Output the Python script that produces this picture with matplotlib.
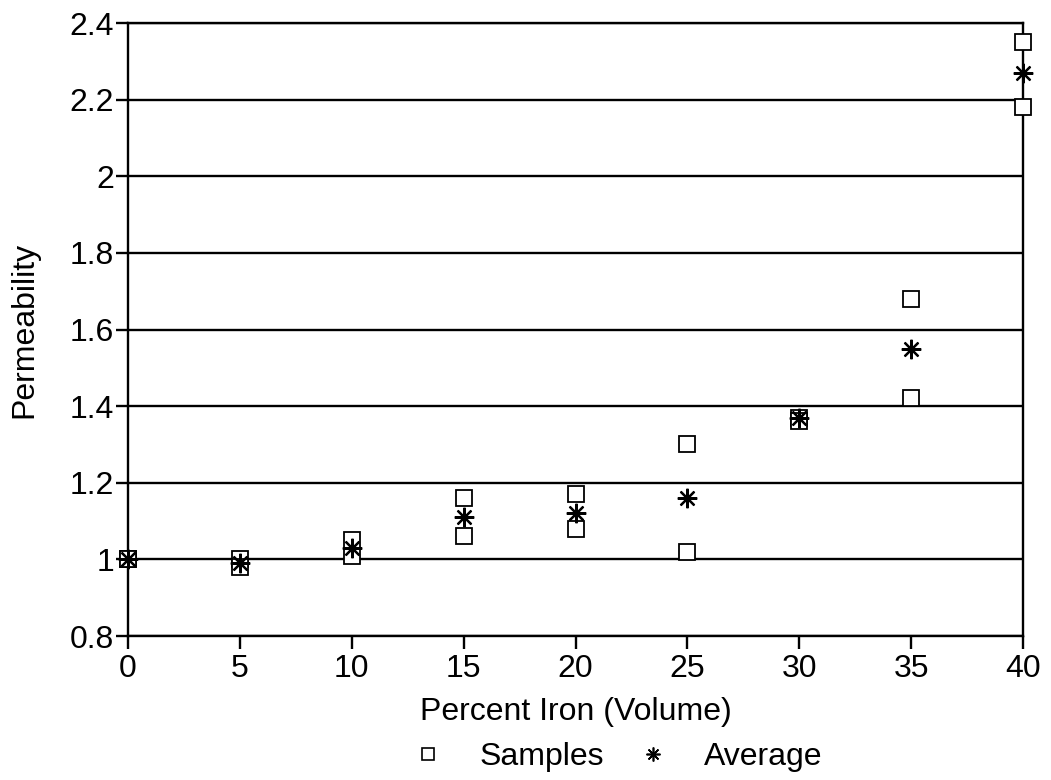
import matplotlib
matplotlib.use("Agg")
import matplotlib.pyplot as plt
from matplotlib.lines import Line2D

# iron content (% by volume) and measured permeability, two samples per mix
iron_pct = [0, 5, 10, 15, 20, 25, 30, 35, 40]
sample_a = [1.00, 1.00, 1.05, 1.16, 1.17, 1.30, 1.37, 1.68, 2.35]
sample_b = [1.00, 0.98, 1.01, 1.06, 1.08, 1.02, 1.36, 1.42, 2.18]
average = [1.00, 0.99, 1.03, 1.11, 1.12, 1.16, 1.37, 1.55, 2.27]

x_ticks = [0, 5, 10, 15, 20, 25, 30, 35, 40]
y_ticks = [0.8, 1.0, 1.2, 1.4, 1.6, 1.8, 2.0, 2.2, 2.4]
y_labels = ["0.8", "1", "1.2", "1.4", "1.6", "1.8", "2", "2.2", "2.4"]

plt.rcParams["font.family"] = ["Liberation Sans", "DejaVu Sans"]
FS = 23

fig = plt.figure(figsize=(10.51, 7.8), dpi=100)
ax = fig.add_axes([0.1218, 0.1846, 0.8516, 0.7859])

for y in y_ticks:
    ax.axhline(y, color="black", lw=1.7, zorder=1)

star = (8, 2, 0)
ax.plot(iron_pct, sample_a, ls="none", marker="s", ms=11.5, mfc="white",
        mec="black", mew=1.3, zorder=3, clip_on=False)
ax.plot(iron_pct, sample_b, ls="none", marker="s", ms=11.5, mfc="white",
        mec="black", mew=1.3, zorder=3, clip_on=False)
ax.plot(iron_pct, average, ls="none", marker=star, ms=14, mec="black",
        mew=1.6, zorder=4, clip_on=False)

ax.set_xlim(0, 40)
ax.set_ylim(0.8, 2.4)
ax.set_xticks(x_ticks)
ax.set_yticks(y_ticks)
ax.set_yticklabels(y_labels)
ax.tick_params(direction="out", length=9, width=1.7, labelsize=FS, pad=1,
               colors="black")
ax.tick_params(axis="x", pad=4)
for s in ax.spines.values():
    s.set_linewidth(1.7)

ax.set_xlabel("Percent Iron (Volume)", fontsize=FS, labelpad=9)
ax.set_ylabel("Permeability", fontsize=FS)
ax.yaxis.set_label_coords(-0.099, 0.5)

handles = [
    Line2D([], [], ls="none", marker="s", ms=9, mfc="white", mec="black", mew=1.2),
    Line2D([], [], ls="none", marker=star, ms=10, mec="black", mew=1.2),
]
fig.legend(handles, ["Samples", "Average"], ncol=2, frameon=False,
           fontsize=FS, loc="center", bbox_to_anchor=(0.586, 0.029),
           handlelength=1.2, handletextpad=1.0, columnspacing=0.95)

fig.savefig("out.png", dpi=100)
